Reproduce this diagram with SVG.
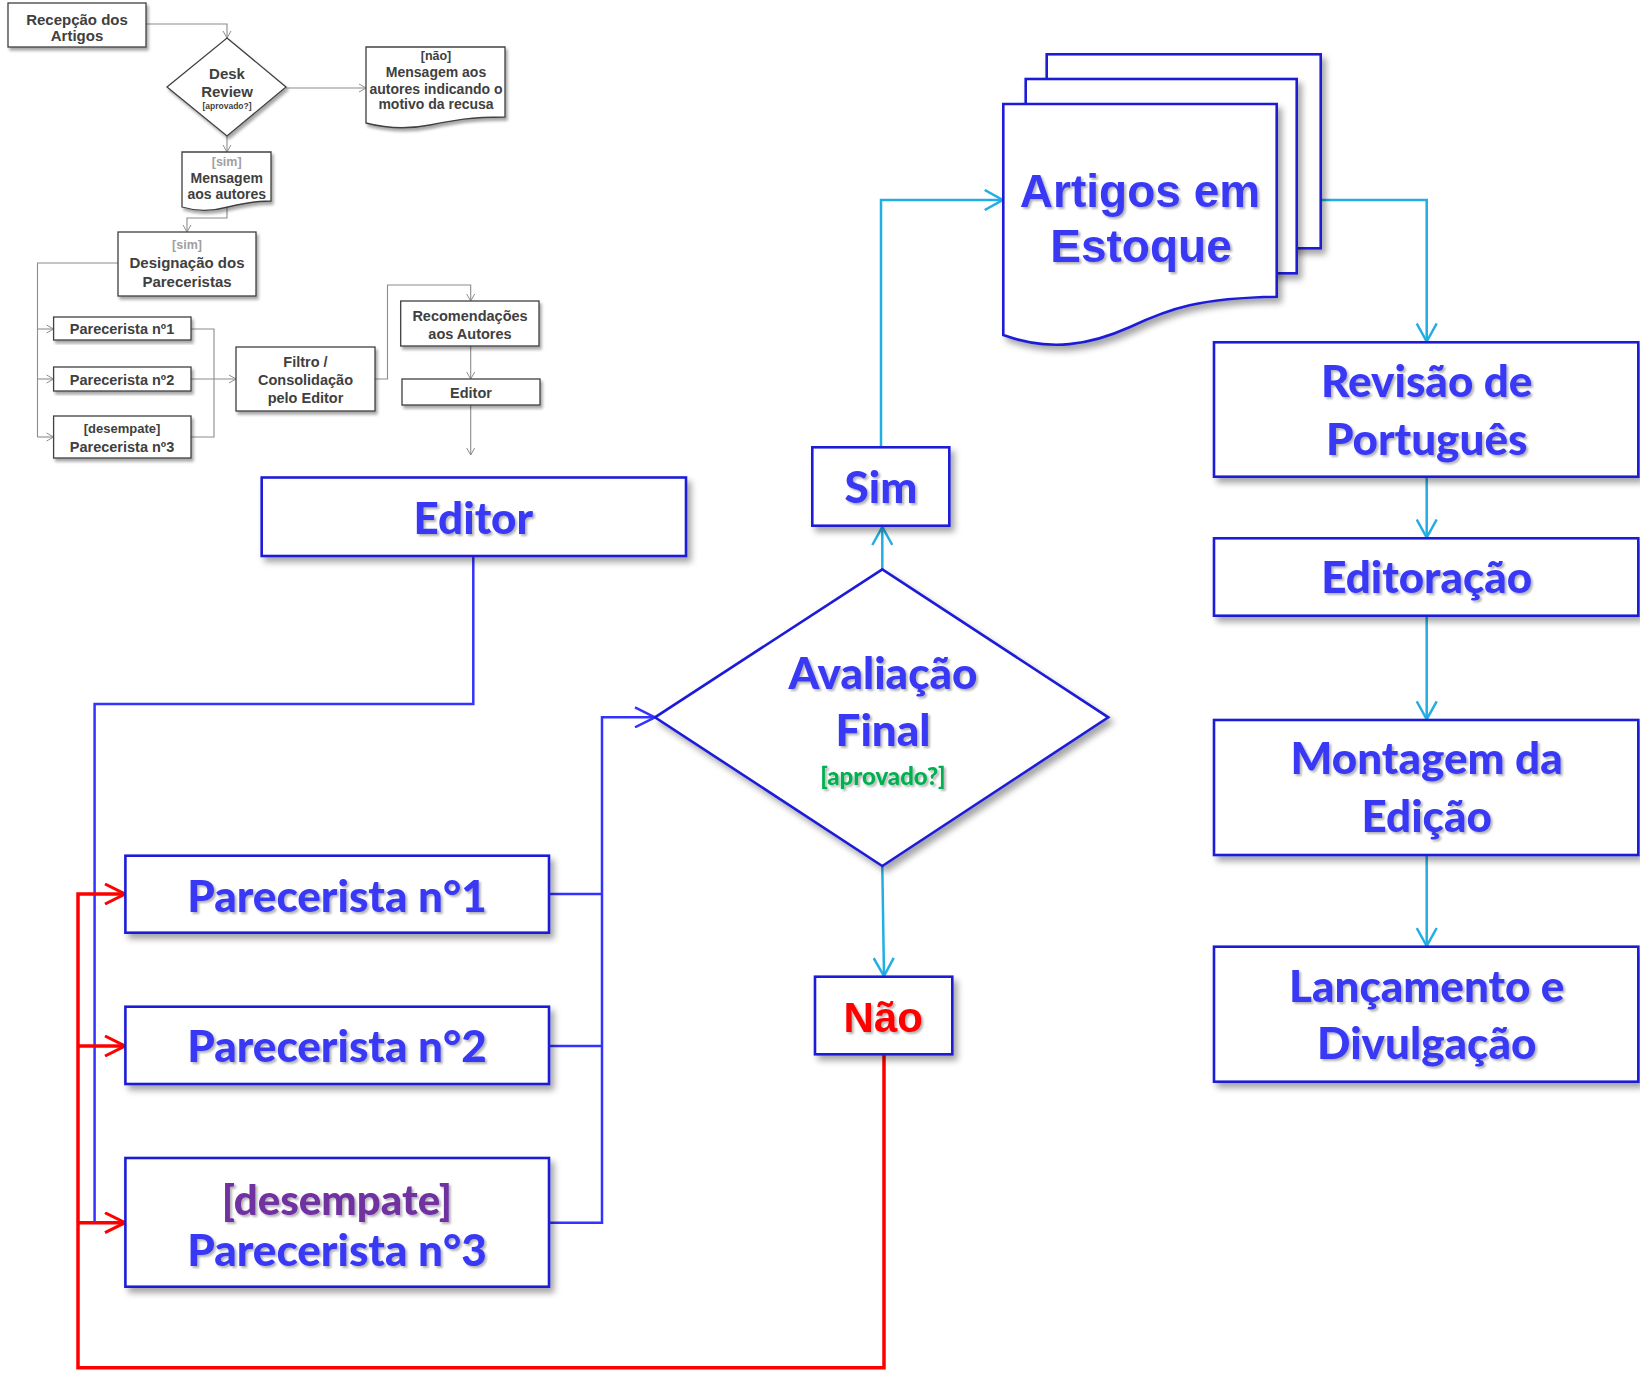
<svg xmlns="http://www.w3.org/2000/svg" width="1640" height="1375" viewBox="0 0 1640 1375">
<defs>
  <filter id="bsh" x="-10%" y="-10%" width="125%" height="130%">
    <feDropShadow dx="4" dy="5" stdDeviation="3" flood-color="#000" flood-opacity="0.35"/>
  </filter>
  <filter id="ssh" x="-10%" y="-10%" width="125%" height="130%">
    <feDropShadow dx="2" dy="3" stdDeviation="1.5" flood-color="#000" flood-opacity="0.35"/>
  </filter>
  <filter id="tsh" x="-10%" y="-20%" width="120%" height="150%">
    <feDropShadow dx="2" dy="2" stdDeviation="1" flood-color="#000" flood-opacity="0.3"/>
  </filter>
  <marker id="aCyan" viewBox="0 0 20 22" refX="19" refY="11" markerWidth="20" markerHeight="22" orient="auto" markerUnits="userSpaceOnUse">
    <path d="M1,1 L19,11 L1,21" fill="none" stroke="#22AEE3" stroke-width="2.5"/>
  </marker>
  <marker id="aBlue" viewBox="0 0 22 22" refX="21" refY="11" markerWidth="22" markerHeight="22" orient="auto" markerUnits="userSpaceOnUse">
    <path d="M1,1 L21,11 L1,21" fill="none" stroke="#3333FF" stroke-width="2.5"/>
  </marker>
  <marker id="aRed" viewBox="0 0 22 22" refX="21" refY="11" markerWidth="22" markerHeight="22" orient="auto" markerUnits="userSpaceOnUse">
    <path d="M1,1 L21,11 L1,21" fill="none" stroke="#FF0000" stroke-width="3"/>
  </marker>
  <marker id="aGrey" viewBox="0 0 8 10" refX="7.5" refY="5" markerWidth="8" markerHeight="10" orient="auto" markerUnits="userSpaceOnUse">
    <path d="M0.5,1 L7.5,5 L0.5,9" fill="none" stroke="#8C8C8C" stroke-width="1"/>
  </marker>
  <style>
    .sbox { fill: #fff; stroke: #404040; stroke-width: 1.3; filter: url(#ssh); }
    .stxt { font-family: "Liberation Sans", Arial, sans-serif; font-weight: bold; fill: #404040; text-anchor: middle; }
    .sgrey { fill: #A0A0A0; }
    .sconn { fill: none; stroke: #8C8C8C; stroke-width: 1.1; }
    .bbox { fill: #fff; stroke: #1E1ED8; stroke-width: 2.6; filter: url(#bsh); }
    .btxt { font-family: Lato, "Open Sans", sans-serif; font-weight: 900; fill: #3838F5; text-anchor: middle; filter: url(#tsh); }
    .atxt { font-family: "Liberation Sans", Arial, sans-serif; font-weight: bold; fill: #3838F5; text-anchor: middle; filter: url(#tsh); }
    .cyan { fill: none; stroke: #22AEE3; stroke-width: 2.5; }
    .blue { fill: none; stroke: #3333FF; stroke-width: 2.5; }
    .red { fill: none; stroke: #FF0000; stroke-width: 3.5; }
  </style>
</defs>
<rect width="1640" height="1375" fill="#fff"/>

<!-- small grey diagram connectors -->
<g id="small-connectors">
  <path class="sconn" d="M146,24 H227 V38" marker-end="url(#aGrey)"/>
  <path class="sconn" d="M286,88 H366" marker-end="url(#aGrey)"/>
  <path class="sconn" d="M227,136 V152" marker-end="url(#aGrey)"/>
  <path class="sconn" d="M227,208 V218 H187 V232" marker-end="url(#aGrey)"/>
  <path class="sconn" d="M118,263 H37.5 V437"/>
  <path class="sconn" d="M37.5,329 H53.6" marker-end="url(#aGrey)"/>
  <path class="sconn" d="M37.5,379 H53.6" marker-end="url(#aGrey)"/>
  <path class="sconn" d="M37.5,437 H53.6" marker-end="url(#aGrey)"/>
  <path class="sconn" d="M191,329 H214 V437 H191"/>
  <path class="sconn" d="M191,379 H236" marker-end="url(#aGrey)"/>
  <path class="sconn" d="M375,379 H387.5 V285 H470.7 V301" marker-end="url(#aGrey)"/>
  <path class="sconn" d="M470.7,346 V379" marker-end="url(#aGrey)"/>
  <path class="sconn" d="M470.7,405 V455" marker-end="url(#aGrey)"/>
</g>

<!-- small grey diagram nodes -->
<g id="s-recepcao">
  <rect class="sbox" x="8" y="3" width="138" height="44"/>
  <text class="stxt" font-size="15" x="77" y="25">Recepção dos</text>
  <text class="stxt" font-size="15" x="77" y="41">Artigos</text>
</g>
<g id="s-desk">
  <polygon class="sbox" points="227,38 286,87 227,136 167,87"/>
  <text class="stxt" font-size="15" x="227" y="79">Desk</text>
  <text class="stxt" font-size="15" x="227" y="96.5">Review</text>
  <text class="stxt" font-size="8.5" x="227" y="108.5">[aprovado?]</text>
</g>
<g id="s-nao">
  <path class="sbox" d="M366,47 H505 V117 C470,117 455,120 430,125 C405,130 385,128 366,123 Z"/>
  <text class="stxt" font-size="12.5" x="436" y="60">[não]</text>
  <text class="stxt" font-size="14" x="436" y="77">Mensagem aos</text>
  <text class="stxt" font-size="14" x="436" y="94">autores indicando o</text>
  <text class="stxt" font-size="14" x="436" y="109">motivo da recusa</text>
</g>
<g id="s-sim-msg">
  <path class="sbox" d="M182,152 H271 V201 C255,201 245,203 228,207 C210,212 195,211 182,207 Z"/>
  <text class="stxt sgrey" font-size="12.5" x="226.7" y="166">[sim]</text>
  <text class="stxt" font-size="14" x="226.7" y="182.5">Mensagem</text>
  <text class="stxt" font-size="14" x="226.7" y="199">aos autores</text>
</g>
<g id="s-designacao">
  <rect class="sbox" x="118" y="232" width="138" height="64"/>
  <text class="stxt sgrey" font-size="12.5" x="187" y="249">[sim]</text>
  <text class="stxt" font-size="15" x="187" y="268">Designação dos</text>
  <text class="stxt" font-size="15" x="187" y="287">Pareceristas</text>
</g>
<g id="s-par1">
  <rect class="sbox" x="53.6" y="317" width="137.4" height="23"/>
  <text class="stxt" font-size="14.5" x="122" y="334">Parecerista nº1</text>
</g>
<g id="s-par2">
  <rect class="sbox" x="53.6" y="367" width="137.4" height="24"/>
  <text class="stxt" font-size="14.5" x="122" y="384.5">Parecerista nº2</text>
</g>
<g id="s-par3">
  <rect class="sbox" x="53.6" y="416" width="137.4" height="42"/>
  <text class="stxt" font-size="13" x="122" y="433">[desempate]</text>
  <text class="stxt" font-size="14.5" x="122" y="451.5">Parecerista nº3</text>
</g>
<g id="s-filtro">
  <rect class="sbox" x="236" y="347" width="139" height="64"/>
  <text class="stxt" font-size="14.5" x="305.5" y="366.5">Filtro /</text>
  <text class="stxt" font-size="14.5" x="305.5" y="384.5">Consolidação</text>
  <text class="stxt" font-size="14.5" x="305.5" y="403">pelo Editor</text>
</g>
<g id="s-recomend">
  <rect class="sbox" x="400.7" y="301" width="138.3" height="45"/>
  <text class="stxt" font-size="14.5" x="470" y="320.5">Recomendações</text>
  <text class="stxt" font-size="14.5" x="470" y="338.5">aos Autores</text>
</g>
<g id="s-editor">
  <rect class="sbox" x="402" y="379" width="138" height="26"/>
  <text class="stxt" font-size="14.5" x="471" y="397.5">Editor</text>
</g>

<!-- main connectors -->
<g id="connectors">
  <path class="blue" d="M473.3,556 V704 H94.6 V1222.7 H125"/>
  <path class="blue" d="M549,894 H602"/>
  <path class="blue" d="M549,1046 H602"/>
  <path class="blue" d="M549,1222.7 H602 V717.3 H655" marker-end="url(#aBlue)"/>
  <path class="red" d="M884,1054.3 V1367.7 H78 V894 H125" marker-end="url(#aRed)"/>
  <path class="red" d="M78,1046 H125" marker-end="url(#aRed)"/>
  <path class="red" d="M78,1222.7 H125" marker-end="url(#aRed)"/>
  <path class="cyan" d="M882.3,569.3 V527" marker-end="url(#aCyan)"/>
  <path class="cyan" d="M881,447.3 V200 H1002.7" marker-end="url(#aCyan)"/>
  <path class="cyan" d="M882.3,866 L884,976" marker-end="url(#aCyan)"/>
  <path class="cyan" d="M1320.7,200 H1426.7 V341.5" marker-end="url(#aCyan)"/>
  <path class="cyan" d="M1426.7,476.7 V537.5" marker-end="url(#aCyan)"/>
  <path class="cyan" d="M1426.7,615.7 V719.3" marker-end="url(#aCyan)"/>
  <path class="cyan" d="M1426.7,855 V946" marker-end="url(#aCyan)"/>
</g>

<!-- main nodes -->
<g id="editor">
  <rect class="bbox" x="261.7" y="477.5" width="424.3" height="78.5"/>
  <text class="btxt" font-size="44" x="473.3" y="534">Editor</text>
</g>
<g id="parecerista1">
  <rect class="bbox" x="125.4" y="855.7" width="423.6" height="77"/>
  <text class="btxt" font-size="44" x="337" y="911.7">Parecerista n°1</text>
</g>
<g id="parecerista2">
  <rect class="bbox" x="125.4" y="1006.7" width="423.6" height="77.3"/>
  <text class="btxt" font-size="44" x="337" y="1061.7">Parecerista n°2</text>
</g>
<g id="parecerista3">
  <rect class="bbox" x="125.4" y="1158" width="423.6" height="128.7"/>
  <text class="btxt" font-size="42" x="337" y="1215" style="fill:#7030A0">[desempate]</text>
  <text class="btxt" font-size="44" x="337" y="1266">Parecerista n°3</text>
</g>
<g id="avaliacao">
  <polygon class="bbox" points="882.3,569.3 1108.3,717.3 882.3,866 655,717.3"/>
  <text class="btxt" font-size="44" x="883" y="689">Avaliação</text>
  <text class="btxt" font-size="44" x="883" y="746">Final</text>
  <text class="btxt" font-size="24" x="883" y="785" style="fill:#00B050">[aprovado?]</text>
</g>
<g id="sim">
  <rect class="bbox" x="812.3" y="447.3" width="137" height="78.4"/>
  <text class="btxt" font-size="44" x="881" y="502.7">Sim</text>
</g>
<g id="nao">
  <rect class="bbox" x="815" y="976.7" width="137.3" height="77.6"/>
  <text class="atxt" font-size="42" x="883.3" y="1031.7" style="fill:#FF0000">Não</text>
</g>
<g id="artigos-estoque">
  <rect class="bbox" x="1046.7" y="54.3" width="274" height="194"/>
  <rect class="bbox" x="1025.7" y="79" width="271" height="194.3"/>
  <path class="bbox" d="M1003.3,104 H1276.7 V296.7 C1200,298 1170,308 1130,327 C1090,345 1050,352 1003.3,335 Z"/>
  <text class="atxt" font-size="46" x="1140" y="206.7">Artigos em</text>
  <text class="atxt" font-size="46" x="1141" y="261.7">Estoque</text>
</g>
<g id="revisao">
  <rect class="bbox" x="1214" y="342.3" width="424.3" height="134.4"/>
  <text class="btxt" font-size="44" x="1426.7" y="396.7">Revisão de</text>
  <text class="btxt" font-size="44" x="1426.7" y="455">Português</text>
</g>
<g id="editoracao">
  <rect class="bbox" x="1214" y="538.3" width="424.3" height="77.4"/>
  <text class="btxt" font-size="44" x="1426.7" y="593.3">Editoração</text>
</g>
<g id="montagem">
  <rect class="bbox" x="1214" y="720" width="424.3" height="135"/>
  <text class="btxt" font-size="44" x="1426.7" y="774">Montagem da</text>
  <text class="btxt" font-size="44" x="1426.7" y="832.3">Edição</text>
</g>
<g id="lancamento">
  <rect class="bbox" x="1214" y="946.7" width="424.3" height="135"/>
  <text class="btxt" font-size="44" x="1426.7" y="1001.7">Lançamento e</text>
  <text class="btxt" font-size="44" x="1426.7" y="1059.3">Divulgação</text>
</g>
</svg>
